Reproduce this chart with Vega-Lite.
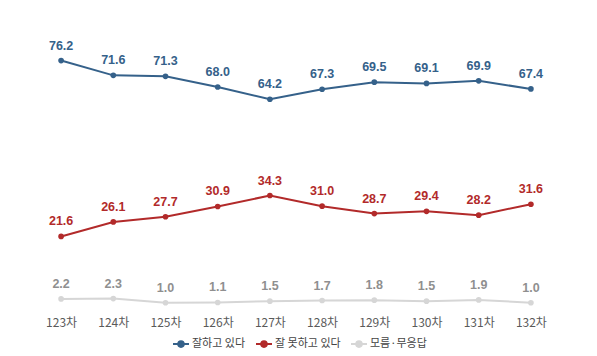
{
  "$schema": "https://vega.github.io/schema/vega-lite/v6.json",
  "width": 522,
  "height": 306,
  "autosize": {"type": "none"},
  "padding": {"left": 35, "top": 0, "right": 40, "bottom": 50},
  "background": "white",
  "config": {"view": {"stroke": null}, "font": "Liberation Sans"},
  "data": {"values": [
    {"round": "123차", "series": "잘하고 있다", "value": 76.2},
    {"round": "124차", "series": "잘하고 있다", "value": 71.6},
    {"round": "125차", "series": "잘하고 있다", "value": 71.3},
    {"round": "126차", "series": "잘하고 있다", "value": 68.0},
    {"round": "127차", "series": "잘하고 있다", "value": 64.2},
    {"round": "128차", "series": "잘하고 있다", "value": 67.3},
    {"round": "129차", "series": "잘하고 있다", "value": 69.5},
    {"round": "130차", "series": "잘하고 있다", "value": 69.1},
    {"round": "131차", "series": "잘하고 있다", "value": 69.9},
    {"round": "132차", "series": "잘하고 있다", "value": 67.4},
    {"round": "123차", "series": "잘 못하고 있다", "value": 21.6},
    {"round": "124차", "series": "잘 못하고 있다", "value": 26.1},
    {"round": "125차", "series": "잘 못하고 있다", "value": 27.7},
    {"round": "126차", "series": "잘 못하고 있다", "value": 30.9},
    {"round": "127차", "series": "잘 못하고 있다", "value": 34.3},
    {"round": "128차", "series": "잘 못하고 있다", "value": 31.0},
    {"round": "129차", "series": "잘 못하고 있다", "value": 28.7},
    {"round": "130차", "series": "잘 못하고 있다", "value": 29.4},
    {"round": "131차", "series": "잘 못하고 있다", "value": 28.2},
    {"round": "132차", "series": "잘 못하고 있다", "value": 31.6},
    {"round": "123차", "series": "모름·무응답", "value": 2.2},
    {"round": "124차", "series": "모름·무응답", "value": 2.3},
    {"round": "125차", "series": "모름·무응답", "value": 1.0},
    {"round": "126차", "series": "모름·무응답", "value": 1.1},
    {"round": "127차", "series": "모름·무응답", "value": 1.5},
    {"round": "128차", "series": "모름·무응답", "value": 1.7},
    {"round": "129차", "series": "모름·무응답", "value": 1.8},
    {"round": "130차", "series": "모름·무응답", "value": 1.5},
    {"round": "131차", "series": "모름·무응답", "value": 1.9},
    {"round": "132차", "series": "모름·무응답", "value": 1.0}
  ]},
  "encoding": {
    "x": {
      "field": "round", "type": "ordinal", "sort": null,
      "scale": {"type": "point", "padding": 0.5},
      "axis": {"title": null, "domain": false, "ticks": false, "grid": false, "labelAngle": 0,
               "labelFont": "Noto Sans CJK KR", "labelFontSize": 12, "labelColor": "#5a5a5a", "labelPadding": 11}
    },
    "y": {"field": "value", "type": "quantitative", "scale": {"domain": [0, 95]}, "axis": null}
  },
  "layer": [
    {
      "mark": {"type": "line", "strokeWidth": 2, "point": {"filled": true, "size": 32}},
      "encoding": {
        "color": {
          "field": "series", "type": "nominal",
          "scale": {"domain": ["잘하고 있다", "잘 못하고 있다", "모름·무응답"], "range": ["#35618a", "#b22a2a", "#d6d6d6"]},
          "legend": {
            "orient": "none", "legendX": 137, "legendY": 335, "direction": "horizontal", "title": null,
            "labelFont": "Noto Sans CJK KR", "labelFontSize": 11, "labelColor": "#444444",
            "symbolType": "M-1,0H1M-0.35,0A0.35,0.35 0 1,0 0.35,0A0.35,0.35 0 1,0 -0.35,0",
            "symbolSize": 256, "symbolStrokeWidth": 2, "columnPadding": 6, "labelOffset": 2,
            "encode": {"symbols": {"update": {"fill": {"scale": "color", "field": "value"}}}}
          }
        }
      }
    },
    {
      "transform": [{"filter": "datum.series !== '모름·무응답'"}],
      "mark": {"type": "text", "dy": -8, "baseline": "bottom", "fontWeight": "bold", "fontSize": 12.5, "font": "Liberation Sans"},
      "encoding": {
        "text": {"field": "value", "type": "quantitative", "format": ".1f"},
        "color": {"field": "series", "type": "nominal"}
      }
    },
    {
      "transform": [{"filter": "datum.series === '모름·무응답'"}],
      "mark": {"type": "text", "dy": -8, "baseline": "bottom", "fontWeight": "bold", "fontSize": 12.5, "font": "Liberation Sans", "color": "#8f8f8f"},
      "encoding": {
        "text": {"field": "value", "type": "quantitative", "format": ".1f"}
      }
    }
  ]
}
